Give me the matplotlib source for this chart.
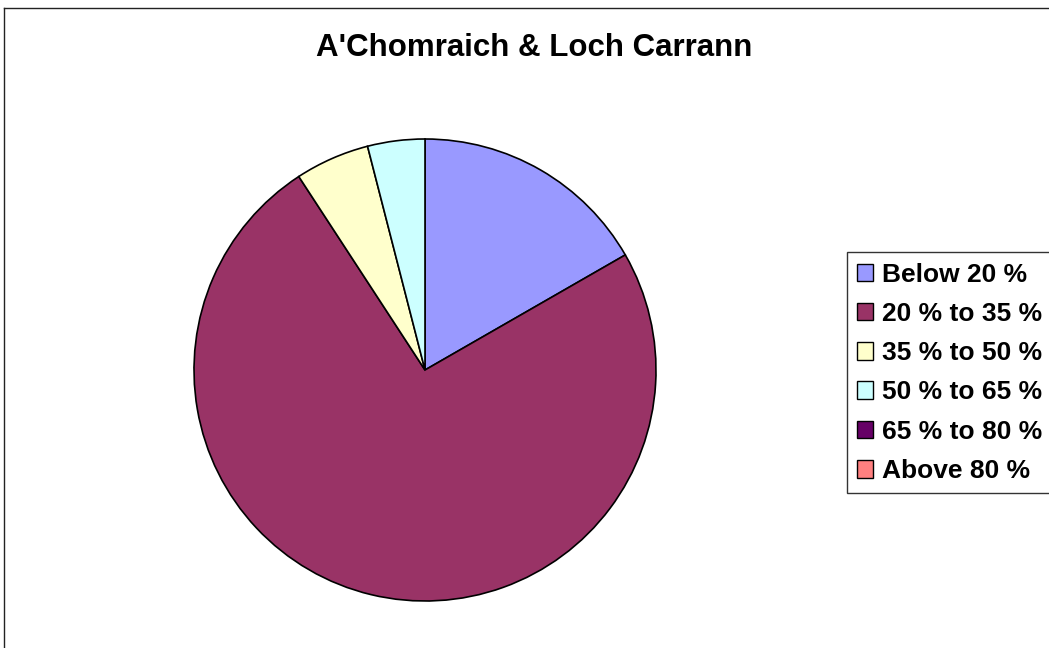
import matplotlib
matplotlib.use("Agg")
import matplotlib.pyplot as plt
from matplotlib.lines import Line2D
from matplotlib.patches import Patch, Rectangle

title = "A'Chomraich & Loch Carrann"
categories = ["Below 20 %", "20 % to 35 %", "35 % to 50 %",
              "50 % to 65 %", "65 % to 80 %", "Above 80 %"]
shares = [16.7, 74.1, 5.2, 4.0, 0.0, 0.0]
colors = ["#9999FF", "#993366", "#FFFFCC", "#CCFFFF", "#660066", "#FF8080"]

W, H = 1049, 648
plt.rcParams["font.family"] = ["Liberation Sans", "DejaVu Sans"]
fig = plt.figure(figsize=(W / 100, H / 100), dpi=100)

# chart-area border (left and top edges)
fig.add_artist(Line2D([4 / W, 4 / W], [0, 1 - 8 / H], color="#222222", lw=1.0))
fig.add_artist(Line2D([4 / W, 1], [1 - 8 / H, 1 - 8 / H], color="#222222", lw=1.0))

cx, cy, r = 425, 370, 231
ax = fig.add_axes([(cx - r) / W, 1 - (cy + r) / H, 2 * r / W, 2 * r / H])
nz = [i for i, v in enumerate(shares) if v > 0]
ax.pie([shares[i] for i in nz], colors=[colors[i] for i in nz],
       startangle=90, counterclock=False, radius=1.0,
       wedgeprops=dict(edgecolor="black", linewidth=1.2))
ax.set_xlim(-1, 1)
ax.set_ylim(-1, 1)
ax.set_aspect("equal")
ax.axis("off")

fig.text(534 / W, 1 - 47.5 / H, title, ha="center", va="center",
         fontsize=22.5, fontweight="bold")

# legend frame runs past the right edge of the figure
fig.add_artist(Rectangle((847 / W, 1 - 493 / H), 230 / W, (493 - 252) / H,
                         transform=fig.transFigure, facecolor="white",
                         edgecolor="#333333", linewidth=1.0))

handles = [Patch(facecolor=c, edgecolor="black", linewidth=1.0) for c in colors]
leg = fig.legend(handles, categories, loc="upper left",
                 bbox_to_anchor=(846 / W, 1 - 252 / H),
                 prop=dict(weight="bold", size=19),
                 frameon=False, handlelength=0.64, handleheight=0.64,
                 handletextpad=0.34, labelspacing=0.58, borderpad=0.4,
                 borderaxespad=0)

fig.savefig("out.png", dpi=100, facecolor="white")
